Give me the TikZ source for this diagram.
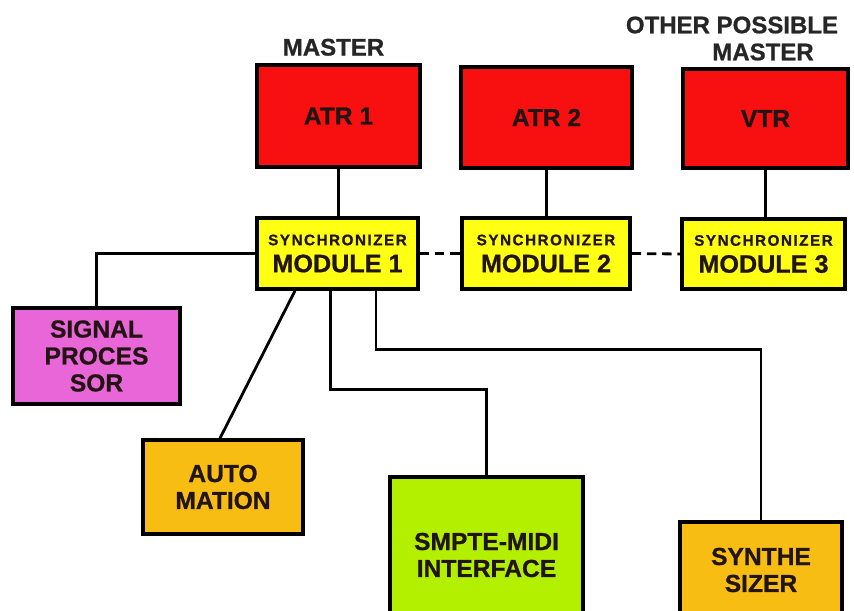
\documentclass[tikz,border=0pt]{standalone}
\usepackage{fontspec}
\setmainfont{Liberation Sans}[BoldFeatures={FakeBold=0.8}]
\usetikzlibrary{positioning}
\definecolor{atrRed}{HTML}{F80F0F}
\definecolor{syncYellow}{HTML}{FFFF14}
\definecolor{procPink}{HTML}{E966D8}
\definecolor{autoOrange}{HTML}{F7BD12}
\definecolor{midiGreen}{HTML}{B2F000}
\definecolor{ink}{HTML}{231414}

\begin{document}
\begin{tikzpicture}[x=0.03cm, y=-0.03cm]
\tikzstyle{box}=[draw=black, line width=3pt, align=center, inner sep=0pt, text=ink, font=\bfseries\fontsize{21}{23}\selectfont]
\tikzstyle{wire}=[line width=2.4pt]
\tikzstyle{tag}=[text=black!85, font=\bfseries\fontsize{20.5}{23}\selectfont]
\newcommand{\syncline}{{\fontsize{13}{15}\selectfont\addfontfeature{LetterSpace=10}SYNCHRONIZER}}
\path[use as bounding box, fill=white] (0,0) rectangle (854,611);
\node[box, fill=atrRed, minimum width=4.89cm, minimum height=3.06cm] (atr1) at (338.5,116) {ATR 1};
\node[box, fill=atrRed, minimum width=5.13cm, minimum height=3.03cm] (atr2) at (546.5,117.5) {ATR 2};
\node[box, fill=atrRed, minimum width=4.95cm, minimum height=2.97cm] (vtr) at (765.5,118.5) {VTR};
\node[tag, above=0.1cm of atr1, xshift=-0.15cm] (master) {MASTER};
\node[tag] (other) at (732,25) {OTHER POSSIBLE};
\node[tag] (vmaster) at (763,52) {MASTER};
\node[box, fill=syncYellow, minimum width=4.83cm, minimum height=2.13cm] (mod1) at (337.5,253.5) {\syncline\\{\fontsize{21.5}{23}\selectfont MODULE 1}};
\node[box, fill=syncYellow, minimum width=5.04cm, minimum height=2.13cm] (mod2) at (546,253.5) {\syncline\\{\fontsize{21.5}{23}\selectfont MODULE 2}};
\node[box, fill=syncYellow, minimum width=4.89cm, minimum height=2.10cm] (mod3) at (763.5,254) {\syncline\\{\fontsize{21.5}{23}\selectfont MODULE 3}};
\node[box, fill=procPink, minimum width=5.01cm, minimum height=2.88cm] (sig) at (96.5,356) {SIGNAL\\PROCES\\SOR};
\node[box, fill=autoOrange, minimum width=4.80cm, minimum height=2.82cm] (auto) at (223,487) {AUTO\\MATION};
\node[box, fill=midiGreen, minimum width=5.79cm, minimum height=4.68cm] (smpte) at (486.5,555) {SMPTE-MIDI\\INTERFACE};
\node[box, fill=autoOrange, minimum width=4.86cm, minimum height=2.88cm] (synth) at (761,570) {SYNTHE\\SIZER};
\draw[wire] (atr1.south) -- (atr1.south |- mod1.north);
\draw[wire] (atr2.south) -- (atr2.south |- mod2.north);
\draw[wire] (vtr.south) -- (vtr.south |- mod3.north);
\draw[wire, dash pattern=on 8pt off 5pt] (mod1.east) -- (mod2.west);
\draw[wire, dash pattern=on 8pt off 5pt] (mod2.east) -- (mod3.west);
\draw[wire] (mod1.west) -| (sig.north);
\draw[wire] ([xshift=-1.275cm]mod1.south) -- ([xshift=-0.09cm]auto.north);
\draw[wire] ([xshift=-0.2cm]mod1.south) -- ++(0,99) -| (smpte.north);
\draw[wire] ([xshift=1.155cm]mod1.south) -- ++(0,59) -| (synth.north);
\end{tikzpicture}
\end{document}
